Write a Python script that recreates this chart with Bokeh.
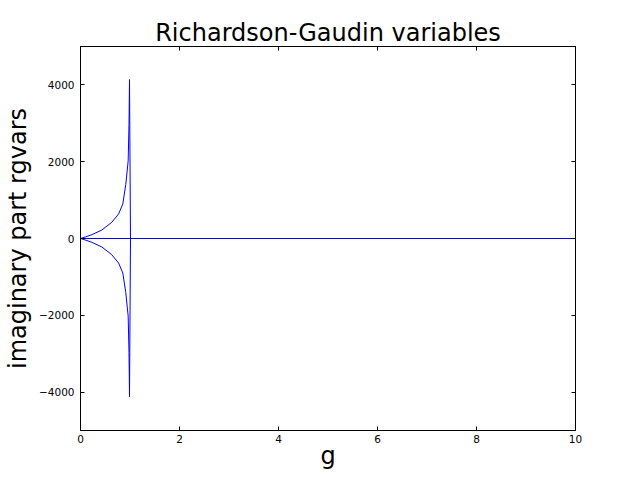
from bokeh.plotting import figure
from bokeh.models import LinearAxis, Range1d, FixedTicker, CustomJSTickFormatter
from bokeh.embed import file_html
from bokeh.resources import INLINE

# ---- data ----
g_upper = [0.0, 0.1, 0.23, 0.43, 0.63, 0.77, 0.855, 0.915, 0.963, 0.98, 0.99, 1.01, 10.0]
im_upper = [0, 40, 100, 220, 420, 640, 900, 1410, 2020, 2970, 4140, 0, 0]
g_lower = [0.0, 0.1, 0.23, 0.43, 0.63, 0.77, 0.855, 0.915, 0.963, 0.98, 0.99, 1.01, 10.0]
im_lower = [0, -40, -100, -220, -420, -640, -900, -1410, -2020, -2970, -4120, 0, 0]
g_flat = [0.0, 10.0]
im_flat = [0, 0]
x_ticks = [0, 2, 4, 6, 8, 10]
y_ticks = [-4000, -2000, 0, 2000, 4000]

FONT = "DejaVu Sans"

p = figure(frame_width=495, frame_height=384, output_backend="svg", toolbar_location=None,
           x_range=Range1d(0, 10), y_range=Range1d(-5000, 5000),
           min_border_left=76, min_border_right=47, min_border_top=46, min_border_bottom=38,
           background_fill_color="white", border_fill_color="white")

p.title.text = "Richardson-Gaudin variables"
p.title.text_font = FONT
p.title.text_font_size = "24px"
p.title.text_font_style = "normal"
p.title.align = "center"
p.title.text_color = "black"
p.title.standoff = 0
p.title.offset = 0

p.outline_line_color = "black"
p.outline_line_width = 1
p.xgrid.visible = False
p.ygrid.visible = False

fmt = CustomJSTickFormatter(code="return tick < 0 ? '\\u2212' + Math.abs(tick).toString() : tick.toString();")

def style_axis(ax, ticks, show_labels=True):
    ax.ticker = FixedTicker(ticks=ticks)
    ax.major_tick_in = 4
    ax.major_tick_out = 0
    ax.minor_tick_in = 0
    ax.minor_tick_out = 0
    ax.major_tick_line_color = "black"
    ax.axis_line_color = "black"
    ax.major_label_text_font = FONT
    ax.major_label_text_color = "black"
    if show_labels:
        ax.major_label_text_font_size = "10.5px"
        ax.major_label_standoff = 6
    else:
        ax.major_label_text_font_size = "0px"
        ax.major_label_standoff = 0
        ax.major_label_text_alpha = 0

xax = p.below[0]
yax = p.left[0]
style_axis(xax, x_ticks)
style_axis(yax, y_ticks)
yax.formatter = fmt
xax.major_label_standoff = 4
xax.axis_label = "g"
yax.axis_label = "imaginary part rgvars"
for ax in (xax, yax):
    ax.axis_label_text_font = FONT
    ax.axis_label_text_font_size = "24px"
    ax.axis_label_text_font_style = "normal"
    ax.axis_label_text_color = "black"
xax.axis_label_standoff = -4
yax.axis_label_standoff = 4

top = LinearAxis()
style_axis(top, x_ticks, show_labels=False)
right = LinearAxis()
style_axis(right, y_ticks, show_labels=False)
p.add_layout(top, "above")
p.add_layout(right, "right")

p.line(g_flat, im_flat, line_color="blue", line_width=1)
p.line(g_upper, im_upper, line_color="blue", line_width=1)
p.line(g_lower, im_lower, line_color="blue", line_width=1)

open("out.html", "w").write(file_html(p, INLINE))
